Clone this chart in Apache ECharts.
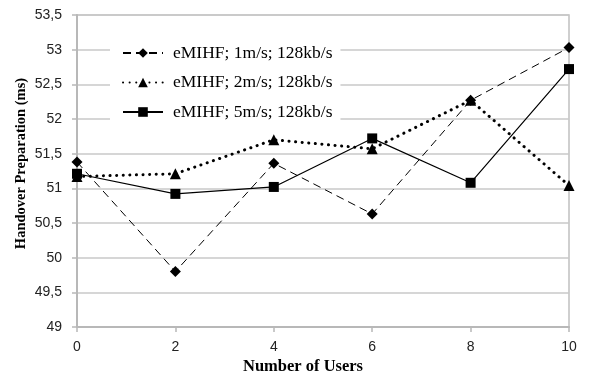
<!DOCTYPE html>
<html>
<head>
<meta charset="utf-8">
<script src="https://cdn.jsdelivr.net/npm/echarts@6/dist/echarts.min.js"></script>
<style>html,body{margin:0;padding:0;background:#fff}#c{width:591px;height:380px}</style>
</head>
<body>
<div id="c"></div>
<script>
var users = [0, 2, 4, 6, 8, 10];
var seriesNames = ['eMIHF; 1m/s; 128kb/s', 'eMIHF; 2m/s; 128kb/s', 'eMIHF; 5m/s; 128kb/s'];
var v1ms = [51.38, 49.80, 51.36, 50.63, 52.27, 53.03];
var v2ms = [51.17, 51.21, 51.70, 51.57, 52.27, 51.04];
var v5ms = [51.21, 50.92, 51.02, 51.72, 51.08, 52.72];
var yTicks = [49, 49.5, 50, 50.5, 51, 51.5, 52, 52.5, 53, 53.5];
var xTicks = [0, 2, 4, 6, 8, 10];

function pairs(vals) { return users.map(function (u, i) { return [u, vals[i]]; }); }

var chart = echarts.init(document.getElementById('c'));
chart.setOption({
  animation: false,
  backgroundColor: '#fff',
  grid: { left: 77, right: 22, top: 15, bottom: 53, show: true, borderColor: '#c0c0c0', borderWidth: 1.5, backgroundColor: 'transparent', containLabel: false, outerBoundsMode: 'none' },
  legend: {
    orient: 'vertical',
    left: 110, top: 41,
    itemWidth: 40, itemHeight: 12, itemGap: 11.5,
    backgroundColor: '#fff',
    padding: [3, 8, 3, 12],
    textStyle: { fontFamily: 'Liberation Serif', fontSize: 17.5, color: '#000', padding: [0, 0, 0, 5] },
    data: seriesNames
  },
  xAxis: {
    type: 'value', min: 0, max: 10, interval: 2,
    name: 'Number of Users', nameLocation: 'middle', nameGap: 31, nameMoveOverlap: false,
    nameTextStyle: { fontFamily: 'Liberation Serif', fontWeight: 'bold', fontSize: 16.5, color: '#000', padding: [0, 40, 0, 0] },
    axisLine: { show: true, lineStyle: { color: '#b8b8b8', width: 2 } },
    axisTick: { show: true, length: 5, lineStyle: { color: '#b8b8b8', width: 1.5 } },
    axisLabel: { fontFamily: 'Liberation Sans', fontSize: 14, color: '#222', margin: 13,
      formatter: function (v) { return xTicks.indexOf(v) >= 0 ? String(v) : ''; } },
    splitLine: { show: false }
  },
  yAxis: {
    type: 'value', min: 49, max: 53.5, interval: 0.5,
    name: 'Handover Preparation (ms)', nameLocation: 'middle', nameGap: 48, nameRotate: 90, nameMoveOverlap: false,
    nameTextStyle: { fontFamily: 'Liberation Serif', fontWeight: 'bold', fontSize: 14.5, color: '#000', padding: [0, 0, 0, 15] },
    axisLine: { show: true, lineStyle: { color: '#b8b8b8', width: 2 } },
    axisTick: { show: true, length: 5, lineStyle: { color: '#b8b8b8', width: 1.5 } },
    axisLabel: { fontFamily: 'Liberation Sans', fontSize: 14, color: '#222', margin: 15,
      formatter: function (v) { var r = Math.round(v * 10) / 10; return yTicks.indexOf(r) >= 0 ? String(r).replace('.', ',') : ''; } },
    splitLine: { show: true, lineStyle: { color: '#c8c8c8', width: 1.5 } }
  },
  series: [
    {
      name: seriesNames[0], type: 'line', data: pairs(v1ms),
      symbol: 'diamond', symbolSize: 11,
      lineStyle: { color: '#000', width: 1, type: [8, 5] },
      itemStyle: { color: '#000' }, z: 3
    },
    {
      name: seriesNames[1], type: 'line', data: pairs(v2ms),
      symbol: 'triangle', symbolSize: 11,
      lineStyle: { color: '#000', width: 3, type: [0.1, 6.5], cap: 'round' },
      itemStyle: { color: '#000' }, z: 4
    },
    {
      name: seriesNames[2], type: 'line', data: pairs(v5ms),
      symbol: 'rect', symbolSize: 10,
      lineStyle: { color: '#000', width: 1.2, type: 'solid' },
      itemStyle: { color: '#000' }, z: 5
    }
  ]
});
</script>
</body>
</html>
